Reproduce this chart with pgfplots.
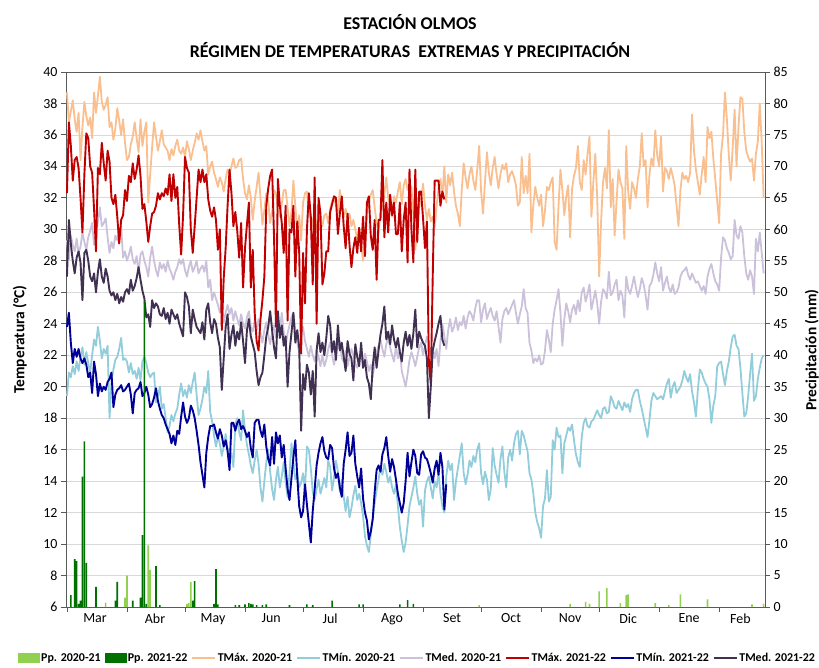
\documentclass[border=0pt]{standalone}
\usepackage{pgfplots}
\usepackage{pgfplotstable}
\pgfplotsset{compat=1.18}
\usepackage{fontspec}
\setmainfont{Carlito}

\definecolor{cTXa}{RGB}{250,191,143}
\definecolor{cTNa}{RGB}{146,205,220}
\definecolor{cTMa}{RGB}{204,193,218}
\definecolor{cTXb}{RGB}{192,0,0}
\definecolor{cTNb}{RGB}{0,0,153}
\definecolor{cTMb}{RGB}{64,49,82}
\definecolor{cPa}{RGB}{146,208,80}
\definecolor{cPb}{RGB}{0,112,0}
\definecolor{gridc}{RGB}{217,217,217}
\definecolor{axc}{RGB}{89,89,89}

% TMax 2020-21
\pgfplotstableread[row sep=\\]{y\\
38.7\\36.8\\37.5\\38.2\\37.0\\36.2\\37.4\\34.4\\36.5\\38.1\\
37.2\\36.6\\37.1\\35.8\\38.7\\37.4\\38.5\\39.7\\38.1\\37.6\\
37.9\\38.4\\36.5\\36.8\\35.7\\36.4\\37.7\\36.9\\36.0\\37.0\\
35.5\\34.4\\34.6\\35.4\\35.9\\36.8\\35.8\\34.9\\37.0\\35.3\\
36.2\\36.8\\31.7\\33.5\\35.2\\36.8\\35.9\\35.0\\35.6\\36.3\\
35.4\\35.2\\35.0\\34.4\\35.1\\34.7\\35.3\\35.7\\35.0\\34.8\\
35.2\\34.6\\35.6\\35.1\\34.4\\35.0\\35.5\\36.1\\35.7\\36.3\\
35.6\\35.0\\35.3\\33.5\\34.0\\34.3\\33.6\\33.2\\32.7\\33.3\\
33.0\\32.4\\33.2\\33.8\\33.5\\34.0\\34.5\\33.9\\34.0\\34.4\\
34.5\\33.2\\32.3\\31.9\\32.8\\32.0\\30.6\\31.8\\32.7\\33.6\\
32.0\\30.3\\31.2\\32.3\\31.8\\30.4\\31.1\\32.5\\32.3\\31.2\\
30.8\\31.6\\32.5\\32.5\\31.4\\30.2\\31.1\\33.1\\31.5\\29.8\\
30.9\\29.3\\31.7\\32.3\\32.4\\31.0\\30.7\\30.3\\31.2\\29.8\\
31.1\\30.5\\30.2\\30.9\\31.0\\30.4\\31.3\\31.8\\32.0\\31.5\\
31.0\\32.5\\31.6\\30.8\\31.3\\30.7\\31.0\\30.2\\30.6\\30.0\\
29.4\\30.1\\29.0\\28.0\\29.6\\31.0\\31.8\\32.2\\32.5\\31.4\\
30.4\\29.8\\31.0\\31.6\\32.2\\33.3\\32.0\\31.5\\30.8\\32.1\\
31.7\\32.4\\33.0\\31.6\\32.8\\33.2\\32.5\\32.9\\32.7\\31.0\\
28.7\\30.0\\31.4\\32.0\\32.9\\31.5\\30.6\\31.3\\30.5\\30.8\\
30.1\\31.5\\32.6\\33.2\\32.1\\34.0\\31.7\\33.5\\32.8\\33.6\\
32.4\\31.5\\31.0\\30.2\\32.5\\34.2\\33.3\\32.6\\33.5\\34.0\\
33.1\\32.5\\33.8\\35.3\\32.4\\31.0\\33.0\\34.9\\33.6\\32.8\\
33.9\\34.6\\33.5\\32.6\\33.5\\34.1\\33.8\\34.2\\33.0\\33.5\\
33.7\\33.3\\32.8\\31.5\\31.7\\34.6\\32.3\\33.4\\32.3\\34.8\\
29.8\\31.6\\32.7\\32.0\\31.5\\32.2\\30.2\\31.2\\32.7\\32.5\\
33.0\\33.3\\29.2\\28.7\\31.5\\33.8\\32.5\\30.9\\32.1\\32.8\\
29.5\\32.6\\33.4\\33.9\\35.3\\33.0\\32.5\\34.4\\33.5\\34.8\\
35.9\\30.8\\33.0\\34.8\\32.0\\27.0\\30.5\\33.0\\33.9\\32.6\\
36.3\\31.4\\33.2\\29.6\\31.8\\33.8\\33.0\\32.6\\29.4\\35.3\\
32.4\\31.3\\33.0\\32.6\\32.0\\33.2\\34.0\\36.1\\34.0\\34.4\\
31.4\\33.5\\34.5\\34.0\\36.3\\34.7\\34.0\\35.9\\32.4\\33.9\\
33.7\\33.2\\33.9\\33.4\\32.8\\31.5\\30.2\\32.5\\33.6\\33.2\\
33.4\\33.0\\33.6\\37.3\\35.0\\33.8\\33.0\\32.2\\33.5\\34.6\\
33.0\\36.5\\35.8\\36.2\\34.5\\33.2\\31.8\\30.4\\34.8\\36.0\\
38.7\\37.0\\34.7\\33.1\\35.2\\37.6\\34.0\\36.5\\38.4\\38.3\\
36.2\\35.0\\34.6\\34.3\\34.5\\33.1\\34.8\\35.6\\38.0\\35.5\\
32.0\\
}\txa

% TMin 2020-21
\pgfplotstableread[row sep=\\]{y\\
19.4\\20.9\\20.6\\21.3\\20.8\\21.6\\21.0\\21.9\\22.5\\21.4\\
22.2\\21.5\\20.9\\22.0\\23.0\\22.6\\23.8\\22.9\\21.8\\22.4\\
22.1\\22.6\\18.0\\20.3\\21.1\\21.7\\21.9\\22.4\\23.1\\21.7\\
21.8\\21.6\\20.9\\21.5\\20.8\\21.0\\20.5\\21.2\\20.4\\21.6\\
21.9\\21.5\\20.9\\20.6\\20.8\\20.9\\19.0\\19.4\\20.0\\18.6\\
18.9\\18.0\\17.1\\17.5\\18.2\\17.8\\18.3\\18.6\\19.5\\20.2\\
19.4\\19.8\\19.3\\20.1\\19.6\\20.3\\20.9\\19.5\\18.2\\18.6\\
19.2\\20.0\\19.6\\21.0\\18.4\\17.8\\16.9\\16.2\\16.8\\16.4\\
15.6\\16.2\\17.0\\16.1\\15.3\\15.8\\14.9\\17.6\\18.0\\17.1\\
16.6\\18.5\\17.2\\16.3\\15.7\\15.0\\14.5\\15.3\\16.0\\15.1\\
13.6\\12.7\\14.0\\15.2\\16.0\\14.6\\13.5\\12.8\\14.1\\14.9\\
13.6\\14.3\\15.2\\13.9\\13.0\\14.5\\16.4\\15.2\\14.1\\14.5\\
13.6\\13.9\\14.5\\13.4\\16.2\\16.0\\14.8\\13.3\\12.8\\13.5\\
14.1\\13.2\\13.7\\14.2\\13.6\\15.3\\14.9\\13.4\\14.2\\15.3\\
14.6\\13.3\\14.1\\13.0\\12.1\\13.0\\11.7\\12.3\\13.1\\13.7\\
12.8\\13.2\\12.6\\11.8\\10.5\\9.9\\9.5\\10.6\\11.6\\12.6\\
13.4\\14.1\\14.9\\14.4\\15.1\\14.6\\13.9\\14.3\\13.6\\13.2\\
13.8\\12.4\\11.1\\10.2\\9.5\\10.1\\11.2\\12.4\\13.0\\13.6\\
14.3\\13.2\\12.5\\12.8\\11.1\\13.4\\14.0\\14.3\\13.6\\12.9\\
14.0\\13.6\\14.5\\13.2\\12.4\\12.0\\14.3\\15.3\\14.7\\15.1\\
12.8\\14.0\\14.8\\15.6\\16.4\\14.5\\13.8\\14.4\\15.3\\14.9\\
15.6\\15.2\\16.0\\16.4\\14.5\\13.8\\14.6\\14.1\\12.8\\13.5\\
16.1\\15.0\\14.4\\13.9\\15.4\\16.2\\14.6\\13.6\\15.5\\16.0\\
15.3\\16.4\\17.0\\17.2\\15.7\\17.2\\16.9\\16.4\\15.9\\14.5\\
14.1\\13.2\\12.0\\11.4\\11.0\\10.4\\12.4\\12.9\\14.7\\12.7\\
13.0\\16.6\\16.0\\17.4\\16.8\\16.9\\14.5\\16.4\\16.9\\17.4\\
17.2\\17.6\\16.6\\15.7\\15.2\\14.9\\16.8\\17.7\\18.0\\17.5\\
17.4\\17.8\\17.9\\18.2\\18.5\\18.2\\18.0\\18.6\\18.7\\18.3\\
18.4\\19.4\\19.1\\18.7\\18.6\\19.1\\18.8\\18.5\\19.0\\18.7\\
18.9\\18.4\\19.2\\19.6\\19.8\\19.8\\19.1\\18.6\\18.0\\17.4\\
16.8\\17.9\\19.1\\19.6\\19.4\\19.2\\19.3\\19.4\\19.2\\19.7\\
20.2\\20.5\\19.3\\20.0\\20.3\\19.6\\19.8\\20.0\\20.4\\21.0\\
20.6\\20.3\\20.8\\19.7\\19.0\\18.1\\19.8\\21.1\\20.9\\20.5\\
20.2\\20.0\\19.2\\17.7\\18.8\\19.4\\21.3\\21.5\\21.6\\20.8\\
20.1\\21.0\\21.6\\22.5\\23.2\\23.3\\22.6\\22.4\\21.2\\19.6\\
18.1\\18.3\\19.4\\20.8\\22.1\\19.1\\19.4\\20.5\\21.2\\21.8\\
22.0\\
}\tna

% TMed 2020-21
\pgfplotstableread[row sep=\\]{y\\
29.3\\28.1\\29.6\\29.0\\28.6\\29.4\\28.5\\28.9\\29.8\\29.2\\
28.7\\29.5\\29.9\\30.4\\29.0\\29.6\\30.5\\31.4\\30.2\\30.4\\
30.7\\29.5\\28.5\\29.2\\28.8\\29.6\\29.3\\30.0\\30.2\\28.2\\
28.6\\28.0\\28.4\\28.9\\28.1\\27.8\\28.3\\27.2\\28.4\\28.6\\
28.0\\27.6\\27.0\\28.2\\28.9\\28.0\\27.4\\27.0\\27.9\\27.5\\
27.8\\27.3\\28.0\\27.5\\27.2\\26.8\\27.3\\27.6\\28.1\\27.8\\
28.1\\27.4\\27.0\\27.6\\28.0\\27.3\\27.6\\28.0\\27.2\\27.5\\
27.7\\27.3\\28.0\\26.3\\26.8\\25.5\\26.0\\25.6\\25.2\\24.7\\
25.3\\24.1\\24.7\\25.2\\24.6\\25.0\\24.2\\24.8\\24.3\\23.9\\
24.6\\24.0\\23.7\\24.4\\24.8\\23.8\\23.5\\24.2\\23.6\\24.3\\
23.4\\22.8\\23.6\\24.1\\23.3\\22.7\\23.5\\23.9\\23.1\\24.2\\
23.6\\24.7\\23.5\\22.5\\23.4\\23.9\\24.4\\24.7\\23.6\\22.8\\
22.2\\23.1\\23.8\\22.9\\22.4\\21.9\\22.6\\22.0\\21.6\\22.3\\
21.9\\21.3\\22.0\\21.3\\21.7\\22.4\\22.8\\22.0\\21.4\\22.1\\
22.5\\22.9\\21.8\\21.6\\22.3\\21.3\\21.9\\22.4\\22.0\\21.5\\
21.2\\21.7\\22.0\\21.5\\22.1\\21.6\\21.0\\21.4\\20.6\\21.5\\
22.2\\22.6\\23.0\\22.4\\21.9\\22.7\\23.1\\22.5\\22.0\\21.6\\
22.6\\21.8\\22.4\\21.0\\20.5\\20.0\\20.8\\21.7\\22.2\\21.8\\
21.3\\21.9\\22.5\\22.8\\22.0\\22.6\\23.2\\22.7\\22.0\\22.5\\
21.8\\22.4\\21.3\\22.9\\24.0\\23.2\\22.4\\23.6\\24.3\\23.5\\
23.8\\24.4\\23.6\\24.1\\23.9\\24.5\\23.7\\24.4\\24.8\\24.6\\
24.2\\25.0\\25.5\\25.5\\24.1\\24.9\\25.3\\24.3\\24.7\\25.0\\
24.5\\24.2\\24.8\\23.8\\22.8\\24.3\\24.8\\25.0\\24.6\\24.9\\
25.2\\25.5\\24.7\\24.0\\24.6\\25.1\\26.2\\25.0\\24.7\\22.8\\
22.3\\21.5\\21.8\\21.6\\22.0\\21.4\\21.5\\22.3\\23.6\\23.0\\
22.2\\24.0\\24.9\\25.5\\26.2\\24.7\\22.6\\24.3\\25.3\\24.8\\
24.1\\24.9\\25.2\\24.6\\25.5\\24.8\\26.0\\26.3\\25.4\\25.9\\
26.5\\24.9\\25.5\\26.1\\25.3\\24.0\\25.4\\26.2\\26.0\\25.6\\
27.3\\25.8\\26.0\\26.5\\26.8\\25.5\\26.1\\25.8\\24.4\\27.0\\
26.2\\25.9\\26.4\\27.0\\26.3\\25.7\\26.2\\26.9\\26.5\\25.8\\
24.9\\26.4\\26.6\\27.1\\27.9\\27.2\\26.7\\27.6\\26.1\\26.6\\
27.0\\26.3\\26.0\\26.5\\25.9\\26.0\\26.3\\27.0\\27.3\\27.4\\
27.6\\27.1\\26.8\\27.2\\26.9\\26.6\\26.7\\26.4\\26.1\\26.4\\
25.9\\27.0\\27.5\\27.8\\27.2\\26.7\\26.5\\26.1\\28.2\\29.5\\
29.3\\28.8\\28.5\\28.1\\28.3\\30.6\\29.6\\29.4\\30.2\\29.8\\
28.3\\27.2\\26.8\\27.4\\27.0\\25.9\\29.4\\28.6\\29.8\\28.5\\
27.2\\
}\tma

% TMax 2021-22
\pgfplotstableread[row sep=\\]{y\\
32.3\\36.8\\35.3\\33.1\\34.4\\34.6\\33.9\\32.0\\29.8\\33.5\\
36.1\\35.8\\34.0\\33.6\\31.3\\28.6\\33.9\\33.5\\35.5\\34.2\\
33.1\\35.0\\34.3\\32.0\\31.6\\32.2\\30.8\\29.1\\30.6\\30.9\\
32.5\\31.8\\33.4\\33.0\\34.2\\33.2\\33.8\\34.7\\33.4\\31.3\\
31.6\\30.5\\29.2\\30.2\\31.0\\31.1\\31.5\\32.3\\31.9\\32.3\\
32.1\\32.6\\32.2\\33.5\\31.8\\33.5\\32.0\\32.7\\30.3\\28.4\\
30.9\\34.6\\33.9\\33.6\\30.0\\28.5\\30.2\\32.0\\33.8\\33.0\\
33.8\\33.0\\33.5\\31.9\\31.2\\30.8\\31.4\\30.6\\28.7\\30.0\\
23.6\\26.9\\28.8\\31.5\\33.8\\32.3\\30.2\\31.1\\29.9\\28.2\\
30.4\\26.3\\28.8\\30.3\\31.7\\26.3\\28.7\\24.7\\22.9\\22.3\\
24.3\\25.5\\27.0\\31.5\\32.6\\33.4\\33.8\\29.5\\23.8\\33.2\\
31.5\\30.4\\28.5\\31.5\\24.2\\30.0\\29.8\\31.5\\27.0\\30.5\\
28.5\\22.1\\28.5\\25.3\\30.0\\32.3\\30.8\\26.5\\33.3\\24.0\\
32.0\\31.0\\26.5\\27.2\\28.6\\28.6\\31.1\\31.6\\32.1\\32.0\\
29.7\\31.0\\32.1\\30.2\\28.8\\31.0\\29.0\\27.6\\28.8\\29.5\\
28.5\\30.1\\28.6\\30.8\\28.3\\31.7\\32.1\\29.6\\28.7\\30.6\\
26.8\\30.6\\30.6\\34.4\\29.5\\31.7\\29.8\\32.2\\30.9\\31.7\\
29.7\\29.7\\31.7\\28.6\\30.6\\31.7\\27.9\\33.8\\30.0\\27.9\\
33.8\\29.2\\32.4\\32.4\\30.7\\28.8\\30.5\\21.5\\20.2\\27.0\\
33.1\\33.1\\33.1\\31.5\\32.4\\31.9\\
}\txb

% TMin 2021-22
\pgfplotstableread[row sep=\\]{y\\
23.8\\24.7\\22.8\\21.5\\22.4\\21.9\\22.4\\21.8\\21.5\\21.8\\
21.4\\20.6\\20.9\\19.6\\21.6\\20.8\\19.4\\20.2\\19.7\\20.0\\
19.8\\20.3\\20.5\\20.9\\18.7\\19.5\\19.8\\19.9\\20.1\\19.7\\
19.8\\20.0\\20.2\\19.5\\18.3\\19.6\\19.8\\19.9\\20.3\\19.4\\
19.6\\20.0\\19.5\\18.7\\18.9\\19.3\\19.9\\19.1\\18.6\\18.2\\
18.0\\17.6\\17.3\\17.0\\16.4\\16.9\\16.3\\17.2\\17.0\\18.1\\
19.0\\18.1\\17.7\\18.0\\18.8\\18.5\\18.0\\17.2\\16.3\\15.2\\
14.4\\13.6\\15.8\\16.8\\17.5\\17.5\\17.6\\17.1\\16.7\\17.3\\
16.9\\16.2\\16.6\\15.9\\14.7\\17.7\\17.7\\17.2\\17.7\\17.9\\
17.3\\17.5\\17.2\\16.8\\17.1\\16.1\\15.5\\17.7\\17.9\\17.9\\
17.2\\16.8\\17.6\\16.2\\15.4\\15.0\\16.8\\15.1\\17.1\\16.4\\
16.9\\15.5\\16.3\\14.8\\13.5\\12.8\\14.2\\15.5\\16.6\\14.3\\
12.4\\11.7\\12.1\\13.8\\12.5\\11.3\\10.1\\12.1\\13.5\\15.0\\
15.8\\16.4\\16.8\\15.9\\15.5\\15.4\\16.3\\16.1\\14.8\\14.2\\
14.5\\13.6\\13.0\\15.1\\16.0\\17.1\\15.6\\15.8\\16.9\\15.1\\
14.3\\13.6\\14.8\\12.9\\12.0\\11.5\\10.3\\10.8\\11.6\\13.3\\
14.7\\15.0\\14.6\\15.7\\16.1\\16.8\\15.6\\14.6\\15.4\\14.9\\
14.1\\13.2\\12.6\\12.0\\12.6\\14.0\\15.8\\14.3\\15.2\\16.0\\
15.6\\14.5\\14.4\\15.7\\15.9\\15.5\\15.4\\15.0\\14.5\\13.9\\
14.8\\15.3\\14.4\\15.8\\14.9\\12.2\\13.8\\
}\tnb

% TMed 2021-22
\pgfplotstableread[row sep=\\]{y\\
27.0\\30.6\\29.1\\28.0\\27.2\\28.2\\28.6\\27.9\\25.5\\28.5\\
28.7\\28.0\\27.0\\26.7\\27.2\\26.0\\27.3\\28.1\\27.0\\26.6\\
27.5\\27.0\\26.1\\25.8\\26.0\\25.5\\25.9\\25.3\\25.7\\25.4\\
26.0\\26.2\\25.9\\26.8\\26.1\\26.4\\26.9\\27.6\\26.8\\26.1\\
25.6\\24.4\\24.6\\23.8\\25.5\\25.0\\25.3\\25.1\\24.6\\24.5\\
25.0\\24.3\\24.7\\24.0\\24.9\\24.6\\24.3\\24.6\\24.0\\23.6\\
23.2\\26.0\\25.7\\25.1\\23.4\\24.9\\24.3\\23.8\\23.6\\23.4\\
24.1\\23.0\\24.9\\25.3\\24.1\\23.4\\24.3\\24.0\\23.1\\22.5\\
19.8\\21.8\\23.8\\24.6\\22.4\\23.3\\23.9\\22.6\\23.5\\23.0\\
24.1\\22.9\\21.5\\23.6\\24.3\\23.2\\22.7\\22.2\\21.0\\20.1\\
20.6\\20.9\\22.0\\23.2\\23.8\\24.8\\23.6\\22.5\\21.8\\24.8\\
23.1\\23.9\\22.6\\23.2\\20.0\\22.2\\23.4\\24.7\\22.8\\23.6\\
22.5\\17.2\\20.8\\19.8\\21.4\\20.9\\19.5\\21.0\\18.1\\22.3\\
23.4\\22.2\\22.8\\22.0\\23.1\\24.5\\23.9\\22.2\\22.9\\21.7\\
23.9\\22.3\\22.8\\21.9\\21.0\\22.9\\22.1\\21.8\\20.4\\22.7\\
21.9\\21.3\\22.8\\21.2\\21.7\\20.6\\20.2\\19.2\\21.3\\22.5\\
21.2\\22.3\\23.3\\24.0\\25.1\\23.0\\23.5\\22.7\\23.9\\23.0\\
22.5\\23.1\\22.2\\21.6\\22.8\\23.5\\22.6\\23.3\\22.4\\23.4\\
24.9\\22.5\\23.5\\23.1\\22.8\\22.6\\21.8\\18.0\\20.0\\22.3\\
22.9\\23.4\\24.0\\24.5\\23.0\\22.6\\
}\tmb

\begin{document}
\begin{tikzpicture}
\useasboundingbox (-66bp,-61bp) rectangle (753bp,607bp);
\begin{axis}[
  at={(0,0)}, anchor=south west, scale only axis,
  width=699bp, height=535bp,
  xmin=-0.5, xmax=360.7, ymin=6, ymax=40,
  ytick={6,8,...,40},
  ymajorgrids, grid style={color=gridc, line width=0.8bp},
  xtick={0,31,61,92,122,153,184,214,245,275,306,337},
  xticklabels={},
  extra x ticks={14.5,45.5,75.5,105.5,136,168,199,229.5,260,290,321.5,348},
  extra x tick labels={Mar,Abr,May,Jun,Jul,Ago,Set,Oct,Nov,Dic,Ene,Feb},
  extra x tick style={major tick length=0pt, grid=none, xticklabel style={yshift=-3bp}},
  xtick pos=bottom, ytick pos=left,
  tick align=outside, major tick length=5bp,
  axis line style={color=axc, line width=0.9bp},
  tick style={color=axc, line width=0.9bp},
  ticklabel style={font=\fontsize{14}{16}\selectfont, text=black},
  /pgf/number format/assume math mode=true,
  ylabel={Temperatura (°C)},
  ylabel style={font=\bfseries\fontsize{15.5}{17}\selectfont, at={(axis description cs:-0.066,0.5)}, anchor=center},
  line join=round,
]
\addplot[cTXa, line width=1.8bp] table[x expr=\coordindex, y=y]{\txa};
\addplot[cTNa, line width=1.8bp] table[x expr=\coordindex, y=y]{\tna};
\addplot[cTMa, line width=1.8bp] table[x expr=\coordindex, y=y]{\tma};
\addplot[cTXb, line width=1.9bp] table[x expr=\coordindex, y=y]{\txb};
\addplot[cTNb, line width=1.9bp] table[x expr=\coordindex, y=y]{\tnb};
\addplot[cTMb, line width=1.9bp] table[x expr=\coordindex, y=y]{\tmb};
\end{axis}

\begin{axis}[
  at={(0,0)}, anchor=south west, scale only axis,
  width=699bp, height=535bp,
  xmin=-0.5, xmax=360.7, ymin=0, ymax=85,
  axis x line=none, axis y line*=right,
  ytick={0,5,...,85},
  tick align=outside, major tick length=5bp,
  axis line style={color=axc, line width=0.9bp},
  tick style={color=axc, line width=0.9bp},
  ticklabel style={font=\fontsize{14}{16}\selectfont, text=black},
  /pgf/number format/assume math mode=true,
  ylabel={Precipitación (mm)},
  ylabel style={font=\bfseries\fontsize{15.5}{17}\selectfont, at={(axis description cs:1.067,0.48)}, anchor=center, rotate=0},
  legend style={at={(axis description cs:0.502,-0.0953)}, anchor=center,
    draw=none, fill=none, font=\bfseries\fontsize{12}{14}\selectfont,
    nodes={inner sep=0.8bp},
    /tikz/every odd column/.append style={column sep=1bp},
    /tikz/every even column/.append style={column sep=3bp}, inner sep=0pt},
  legend columns=8,
]
\addplot[ybar, bar width=1.6bp, bar shift=0pt, fill=cPa, draw=none, forget plot] coordinates {
(20,0.7) (30,1.5) (31,5.0) (42,9.8) (43,5.9) (62,0.5) (63,0.6) (64,4.0)
(213,0.3) (260,0.5) (268,0.8) (270,0.5) (275,2.5) (279,3.0) (286,0.6)
(289,1.9) (290,2.0) (304,0.6) (311,0.3) (317,2.0) (331,1.2) (354,0.4) (360,0.5)};
\addplot[ybar, bar width=1.6bp, bar shift=0pt, fill=cPb, draw=none, forget plot] coordinates {
(2,1.9) (4,7.6) (5,7.3) (6,0.5) (7,1.0) (8,20.7) (9,26.3) (10,7.0) (15,3.2)
(25,1.0) (26,4.0) (34,1.0) (38,1.5) (39,11.4) (40,48.5) (41,0.5) (46,6.5) (48,0.3)
(65,1.0) (66,4.1) (76,0.5) (77,6.0) (78,0.4) (87,0.3) (89,0.3) (92,0.4) (94,0.6)
(95,0.5) (96,0.4) (98,0.3) (101,0.3) (103,0.4) (115,0.3) (124,0.4) (127,0.3)
(137,1.0) (151,0.4) (153,0.4) (172,0.4) (176,1.1) (179,0.5)};
\addlegendimage{legend image code/.code={\fill[cPa] (0bp,-4.5bp) rectangle (21bp,4.5bp);}}
\addlegendimage{legend image code/.code={\fill[cPb] (0bp,-4.5bp) rectangle (21bp,4.5bp);}}
\addlegendimage{legend image code/.code={\draw[cTXa, line width=1.8bp] (0bp,0bp) -- (23bp,0bp);}}
\addlegendimage{legend image code/.code={\draw[cTNa, line width=1.8bp] (0bp,0bp) -- (23bp,0bp);}}
\addlegendimage{legend image code/.code={\draw[cTMa, line width=1.8bp] (0bp,0bp) -- (23bp,0bp);}}
\addlegendimage{legend image code/.code={\draw[cTXb, line width=1.8bp] (0bp,0bp) -- (23bp,0bp);}}
\addlegendimage{legend image code/.code={\draw[cTNb, line width=1.8bp] (0bp,0bp) -- (23bp,0bp);}}
\addlegendimage{legend image code/.code={\draw[cTMb, line width=1.8bp] (0bp,0bp) -- (23bp,0bp);}}
\legend{Pp. 2020-21, Pp. 2021-22, TMáx. 2020-21, TMín. 2020-21, TMed. 2020-21, TMáx. 2021-22, TMín. 2021-22, TMed. 2021-22}
\end{axis}

\node[font=\bfseries\fontsize{18}{20}\selectfont, anchor=center] at (344bp,585bp) {ESTACIÓN OLMOS};
\node[font=\bfseries\fontsize{18}{20}\selectfont, anchor=center] at (344bp,557bp) {RÉGIMEN DE TEMPERATURAS \ EXTREMAS Y PRECIPITACIÓN};
\end{tikzpicture}
\end{document}
